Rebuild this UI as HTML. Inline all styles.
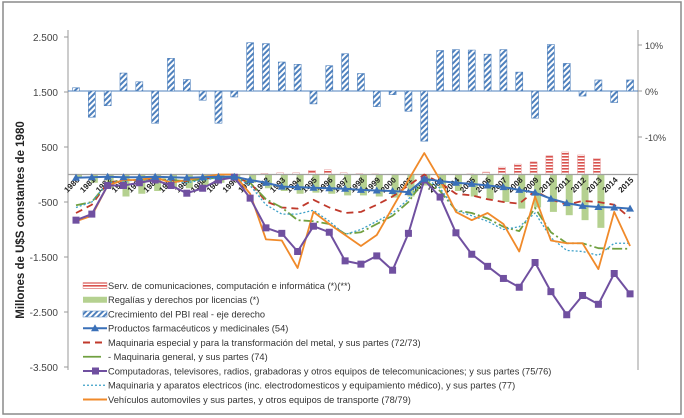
<!DOCTYPE html>
<html><head><meta charset="utf-8"><style>
body{margin:0;background:#fff;}
svg{display:block;font-family:"Liberation Sans",sans-serif;}
</style></head><body>
<svg id="chart" width="684" height="418">
<defs>
<pattern id="diag" width="4" height="4" patternUnits="userSpaceOnUse" patternTransform="rotate(45)"><rect width="4" height="4" fill="#fff"/><rect width="2" height="4" fill="#4f81bd"/></pattern>
<pattern id="hstripe" width="4" height="3" patternUnits="userSpaceOnUse"><rect width="4" height="3" fill="#fff"/><rect width="4" height="1.6" fill="#d9534f"/></pattern>
</defs>
<rect x="3" y="2" width="678" height="412" fill="#fff" stroke="#8a8a8a" stroke-width="1.5"/>
<text transform="translate(24,220) rotate(-90)" text-anchor="middle" font-size="11.5" font-weight="bold" fill="#222">Millones de U$S constantes de 1980</text>
<g id="g"></g>
</svg>
<script>
const years=[];for(let y=1980;y<=2015;y++)years.push(String(y));
const gdp=[0.7,-5.7,-3.2,3.9,2.0,-7.0,7.1,2.5,-2.0,-7.0,-1.3,10.5,10.3,6.3,5.8,-2.8,5.5,8.1,3.8,-3.4,-0.8,-4.4,-10.9,8.8,9.0,8.9,8.0,9.0,4.1,-5.9,10.1,6.0,-1.1,2.4,-2.5,2.4];
const serv=[0,0,0,0,0,0,0,0,0,0,0,0,20,30,30,75,85,30,15,10,5,5,0,0,5,10,45,135,190,230,340,410,355,290,0,0];
const regal=[-50,-150,-250,-400,-350,-300,-250,-250,-200,-150,-100,-150,-250,-300,-350,-330,-350,-380,-380,-400,-420,-400,-200,-250,-300,-400,-450,-500,-620,-600,-680,-740,-830,-970,0,0];
const pharma=[-60,-50,-40,-50,-50,-40,-50,-60,-50,-40,-40,-100,-150,-220,-230,-240,-250,-260,-280,-290,-300,-320,-80,-120,-150,-170,-200,-230,-280,-330,-440,-520,-570,-590,-600,-620];
const maqEsp=[-700,-550,-150,-100,-100,-80,-100,-120,-80,-50,-50,-150,-490,-600,-620,-460,-600,-700,-680,-550,-400,-200,0,-150,-350,-380,-450,-500,-530,-300,-450,-550,-480,-500,-550,-790];
const maqGen=[-560,-500,-150,-100,-100,-80,-100,-120,-80,-60,-50,-150,-450,-600,-830,-850,-900,-1080,-1050,-900,-750,-500,-100,-300,-650,-700,-800,-950,-1030,-610,-1050,-1250,-1250,-1340,-1350,-1350];
const compu=[-830,-720,-200,-200,-150,-100,-200,-340,-250,-100,-50,-430,-970,-1070,-1400,-940,-1050,-1570,-1630,-1480,-1740,-1070,-100,-410,-1060,-1450,-1670,-1890,-2050,-1600,-2130,-2550,-2200,-2360,-1800,-2170];
const maqElec=[-600,-500,-150,-120,-100,-80,-120,-150,-100,-60,-50,-200,-550,-720,-720,-650,-850,-1090,-1000,-850,-700,-450,-50,-250,-650,-750,-850,-1000,-950,-700,-1150,-1380,-1400,-1470,-1250,-1250];
const vehic=[-850,-750,-200,-100,-100,-50,-150,-100,-50,0,0,-350,-1180,-1200,-1700,-680,-900,-1100,-1300,-1100,-600,-100,390,-100,-680,-830,-700,-900,-1400,-400,-1200,-1250,-1250,-1720,-680,-1300];
const leftTicks=[2500,1500,500,-500,-1500,-2500,-3500];
const leftTickLabels=["2.500","1.500","500","-500","-1.500","-2.500","-3.500"];
const rightTicks=[10,0,-10];
const rightTickLabels=["10%","0%","-10%"];

const NS="http://www.w3.org/2000/svg";
const g=document.getElementById('g');
function el(t,a,p){const e=document.createElementNS(NS,t);for(const k in a)e.setAttribute(k,a[k]);(p||g).appendChild(e);return e;}
const X=i=>76+i*15.83;
const Y=v=>174.5-v*0.055;
const YR=v=>91-v*4.6;

// axes
el('line',{x1:68,y1:30,x2:68,y2:370,stroke:'#999','stroke-width':1});
el('line',{x1:638,y1:30,x2:638,y2:370,stroke:'#999','stroke-width':1});
leftTicks.forEach((v,i)=>{
  el('line',{x1:64,y1:Y(v),x2:68,y2:Y(v),stroke:'#999'});
  const t=el('text',{x:58,y:Y(v)+4,'text-anchor':'end','font-size':10,fill:'#444'});t.textContent=leftTickLabels[i];
  
  
});
rightTicks.forEach((v,i)=>{
  el('line',{x1:638,y1:YR(v),x2:642,y2:YR(v),stroke:'#999'});
  const t=el('text',{x:645,y:YR(v)+4,'font-size':9,fill:'#444'});t.textContent=rightTickLabels[i];
  
  
});
// baselines
el('line',{x1:68,y1:YR(0),x2:638,y2:YR(0),stroke:'#4f81bd','stroke-width':1});
// bars
const bw=7;
gdp.forEach((v,i)=>{const y0=YR(0),y1=YR(v);const r=el('rect',{x:X(i)-bw/2,y:Math.min(y0,y1),width:bw,height:Math.abs(y1-y0),fill:'url(#diag)',stroke:'#4f81bd','stroke-width':0.6});
  
  });
regal.forEach((v,i)=>{if(!v)return;const r=el('rect',{x:X(i)-1,y:Y(0),width:bw,height:Y(v)-Y(0),fill:'#b5d190'});
  
  });
serv.forEach((v,i)=>{if(!v)return;const r=el('rect',{x:X(i)-5,y:Y(v),width:bw,height:Y(0)-Y(v),fill:'url(#hstripe)',stroke:'#e08080','stroke-width':0.4});
  
  });
el('line',{x1:68,y1:Y(0),x2:638,y2:Y(0),stroke:'#a0a0a0','stroke-width':1.2});
// x labels
years.forEach((y,i)=>{const t=el('text',{transform:`translate(${X(i)+4},${Y(0)+6}) rotate(-45)`,'text-anchor':'end','font-size':8,'font-weight':'bold',fill:'#222'});t.textContent=y;
  
  });
// lines
function line(arr,color,w,dash,name){const d=arr.map((v,i)=>(i?'L':'M')+X(i)+','+Y(v)).join('');const p=el('path',{d:d,fill:'none',stroke:color,'stroke-width':w,'stroke-dasharray':dash||'none','stroke-linejoin':'round'});
  
  }
line(maqEsp,'#c0392b',1.8,'7,5','line-maq-especial');
line(maqGen,'#70a040',1.8,'10,3,2,3','line-maq-general');
line(maqElec,'#3ca0c8',1.3,'2,2','line-maq-electrica');
line(vehic,'#f08a2a',1.8,'','line-vehiculos');
line(compu,'#7050a0',2,'','line-computadoras');
compu.forEach((v,i)=>{const r=el('rect',{x:X(i)-3.5,y:Y(v)-3.5,width:7,height:7,fill:'#7050a0'});
  
  });
line(pharma,'#3a70b8',2,'','line-farmaceuticos');
pharma.forEach((v,i)=>{const x=X(i),y=Y(v);const p=el('path',{d:`M${x},${y-4}L${x+4},${y+3}L${x-4},${y+3}Z`,fill:'#3a70b8'});
  
  });
// legend
const legendLabels=["Serv. de comunicaciones, computación e informática (*)(**)","Regalías y derechos por licencias (*)","Crecimiento del PBI real - eje derecho","Productos farmacéuticos y medicinales (54)","Maquinaria especial y para la transformación del metal, y sus partes (72/73)","- Maquinaria general, y sus partes (74)","Computadoras, televisores, radios, grabadoras y otros equipos de telecomunicaciones; y sus partes (75/76)","Maquinaria y aparatos electricos (inc. electrodomesticos y equipamiento médico), y sus partes (77)","Vehículos automoviles y sus partes, y otros equipos de transporte (78/79)"];
const lg=el('g',{});


legendLabels.forEach((lab,i)=>{
  const y=285.5+i*14.25;
  const sx=83,ex=107;
  if(i===0)el('rect',{x:sx,y:y-3,width:24,height:6,fill:'url(#hstripe)',stroke:'#e08080','stroke-width':0.4},lg);
  if(i===1)el('rect',{x:sx,y:y-3,width:24,height:6,fill:'#b5d190'},lg);
  if(i===2)el('rect',{x:sx,y:y-3,width:24,height:6,fill:'url(#diag)',stroke:'#4f81bd','stroke-width':0.5},lg);
  if(i===3){el('line',{x1:sx,y1:y,x2:ex,y2:y,stroke:'#3a70b8','stroke-width':2},lg);el('path',{d:`M95,${y-4}L99,${y+3}L91,${y+3}Z`,fill:'#3a70b8'},lg);}
  if(i===4)el('line',{x1:sx,y1:y,x2:ex,y2:y,stroke:'#c0392b','stroke-width':2,'stroke-dasharray':'7,5'},lg);
  if(i===5)el('line',{x1:sx,y1:y,x2:ex-6,y2:y,stroke:'#70a040','stroke-width':1.8},lg);
  if(i===6){el('line',{x1:sx,y1:y,x2:ex,y2:y,stroke:'#7050a0','stroke-width':2},lg);el('rect',{x:92,y:y-3.5,width:7,height:7,fill:'#7050a0'},lg);}
  if(i===7)el('line',{x1:sx,y1:y,x2:ex,y2:y,stroke:'#3ca0c8','stroke-width':1.3,'stroke-dasharray':'2,2'},lg);
  if(i===8)el('line',{x1:sx,y1:y,x2:ex,y2:y,stroke:'#f08a2a','stroke-width':2},lg);
  const t=el('text',{x:108,y:y+3.3,'font-size':9.3,fill:'#333'},lg);t.textContent=lab;
  
  
});
</script>
</body></html>
